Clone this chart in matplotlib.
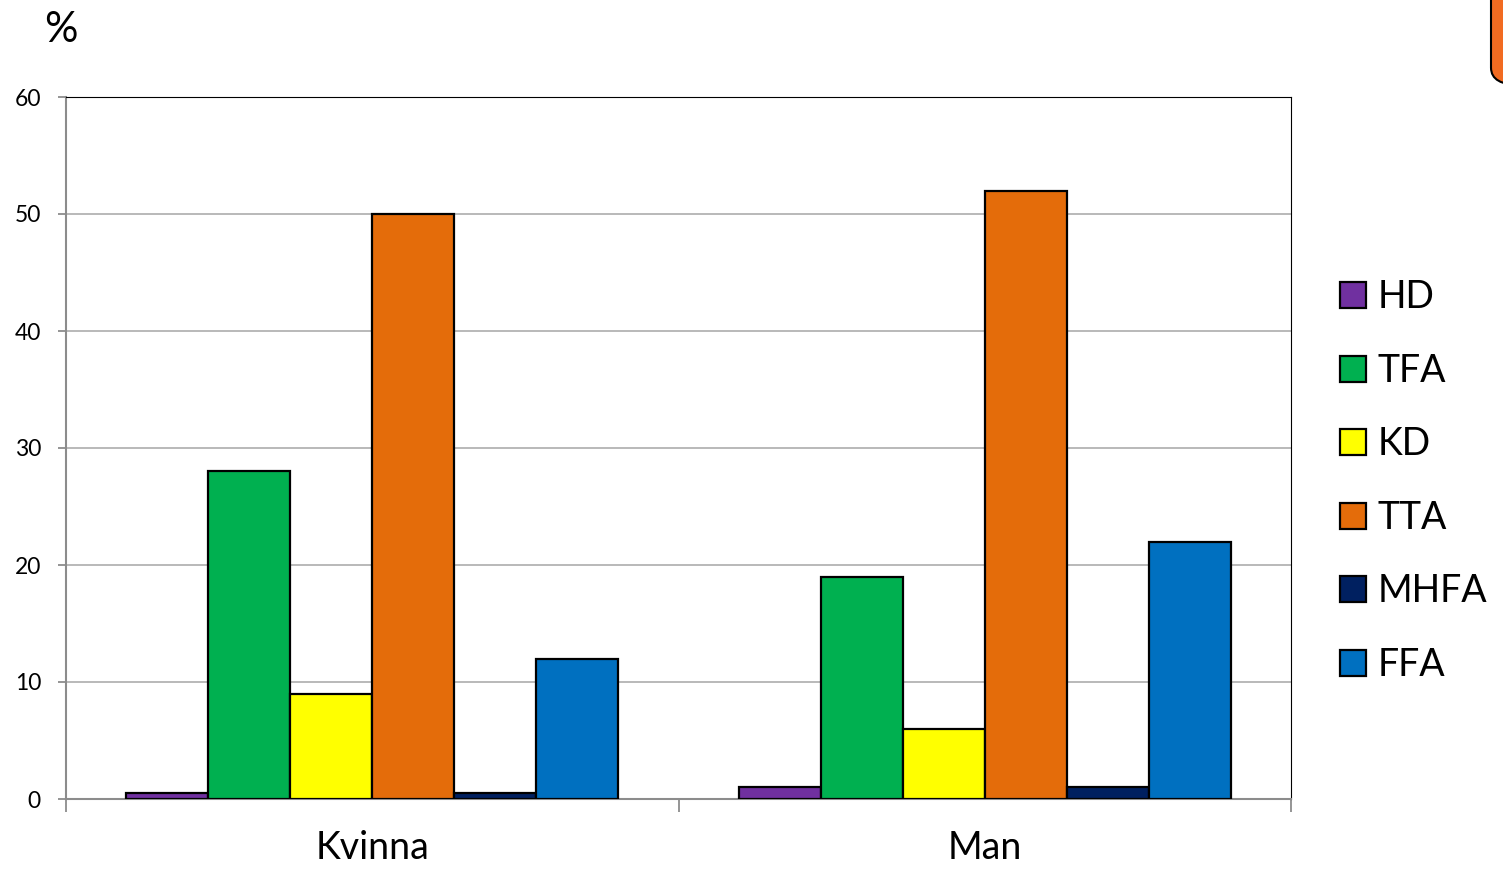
import matplotlib.pyplot as plt
from matplotlib.patches import FancyBboxPatch
import numpy as np

plt.rcParams['font.family'] = ['Lato', 'DejaVu Sans']

categories = ["Kvinna", "Man"]
series = ["HD", "TFA", "KD", "TTA", "MHFA", "FFA"]
values = {
    "HD": [0.5, 1],
    "TFA": [28, 19],
    "KD": [9, 6],
    "TTA": [50, 52],
    "MHFA": [0.5, 1],
    "FFA": [12, 22],
}
colors = ["#7030A0", "#00B050", "#FFFF00", "#E46C0A", "#002060", "#0070C0"]

fig = plt.figure(figsize=(15.03, 8.69), dpi=100)
ax = fig.add_axes([66 / 1503, 1 - 799 / 869, (1291 - 66) / 1503, (799 - 97) / 869])

x = np.arange(len(categories))
width = 0.134
for i, name in enumerate(series):
    offset = (i - (len(series) - 1) / 2) * width
    ax.bar(x + offset, values[name], width, color=colors[i], edgecolor="black",
           linewidth=1.6, label=name, zorder=3)

ax.set_xlim(-0.5, len(categories) - 0.5)
ax.set_ylim(0, 60)
ax.set_yticks(range(0, 61, 10))
ax.yaxis.grid(True, color="#A6A6A6", linewidth=1.1, zorder=0)
ax.set_axisbelow(True)

ax.set_xticks(x)
ax.set_xticklabels(categories, fontsize=27)
ax.set_xticks(np.arange(-0.5, len(categories), 1), minor=True)
ax.tick_params(axis="x", which="major", length=0, pad=22)
ax.tick_params(axis="x", which="minor", length=9, color="#8C8C8C", width=1.3)
ax.tick_params(axis="y", length=6, color="#8C8C8C", width=1.3, labelsize=16.5, pad=12)

ax.spines["left"].set_color("#8C8C8C")
ax.spines["bottom"].set_color("#8C8C8C")
ax.spines["left"].set_linewidth(1.5)
ax.spines["bottom"].set_linewidth(1.5)
ax.spines["top"].set_color("black")
ax.spines["right"].set_color("black")

fig.text(44 / 1503, 1 - 30 / 869, "%", fontsize=30, va="center", ha="left")

fig.legend(loc="center left", bbox_to_anchor=(1325 / 1503, 1 - 481 / 869),
           frameon=False, fontsize=27, handlelength=0.7, handleheight=0.7,
           handletextpad=0.3, labelspacing=1.0, borderaxespad=0)

# orange shape cut off at the top right corner
fig.patches.append(FancyBboxPatch((1491 / 1503, 0.902), 0.05, 0.2,
                                  boxstyle="round,pad=0,rounding_size=0.02",
                                  transform=fig.transFigure, facecolor="#F26B21",
                                  edgecolor="black", linewidth=1.5, clip_on=False))

fig.savefig("out.png", dpi=100)
